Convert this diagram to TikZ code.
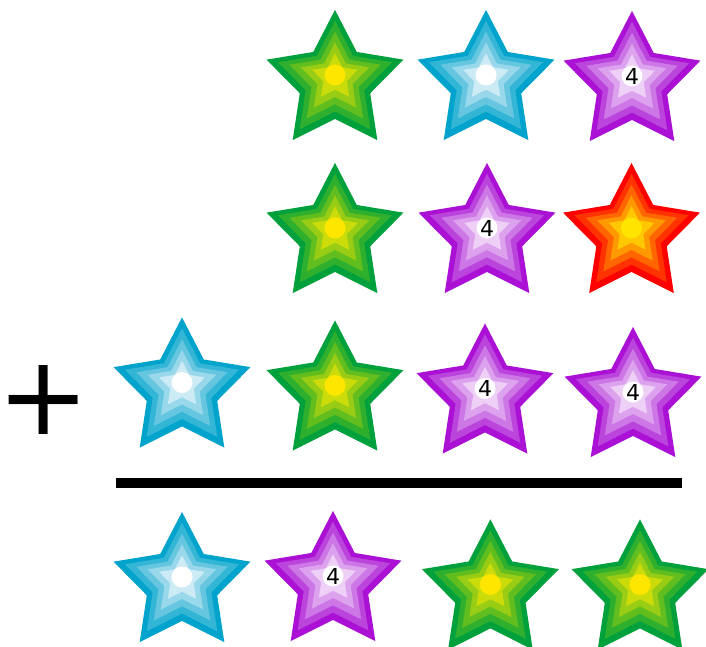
\documentclass[tikz,border=0pt]{standalone}
\usepackage{fontspec}
\newfontfamily\dejavu{DejaVu Sans}
\definecolor{greenA}{HTML}{00A03C}
\definecolor{greenB}{HTML}{2EAF2E}
\definecolor{greenC}{HTML}{62BD1E}
\definecolor{greenD}{HTML}{99CC14}
\definecolor{greenE}{HTML}{CCDC0A}
\definecolor{greenO}{HTML}{FFE600}
\definecolor{blueA}{HTML}{00A3CC}
\definecolor{blueB}{HTML}{33B5D6}
\definecolor{blueC}{HTML}{66C6E0}
\definecolor{blueD}{HTML}{99D8EB}
\definecolor{blueE}{HTML}{CCEBF4}
\definecolor{blueO}{HTML}{FFFFFF}
\definecolor{purpleA}{HTML}{AA11D4}
\definecolor{purpleB}{HTML}{BB44DD}
\definecolor{purpleC}{HTML}{CC77E5}
\definecolor{purpleD}{HTML}{DDA2EE}
\definecolor{purpleE}{HTML}{EED0F7}
\definecolor{purpleO}{HTML}{FFFFFF}
\definecolor{redA}{HTML}{FF0000}
\definecolor{redB}{HTML}{FF3300}
\definecolor{redC}{HTML}{FF6600}
\definecolor{redD}{HTML}{FF9900}
\definecolor{redE}{HTML}{FFC800}
\definecolor{redO}{HTML}{FFE400}
\tikzset{
  starlabel/.style={font=\dejavu\fontsize{22}{22}\selectfont, inner sep=0pt, text=black},
  plussign/.style={font=\dejavu\fontsize{110}{110}\selectfont, inner sep=0pt, text=black},
}
\newcommand\starpath{(0,-65.1) -- (21.75,-23.03) -- (68.48,-15.35) -- (35.19,18.33) -- (42.32,65.15) -- (0,43.9) -- (-42.32,65.15) -- (-35.19,18.33) -- (-68.48,-15.35) -- (-21.75,-23.03) -- cycle}
% #1 name, #2 x, #3 y, #4 colour family, #5 label
\newcommand\layeredstar[5]{%
  \begin{scope}[shift={(#2,#3)}]
    \fill[#4A] \starpath;
    \fill[#4B, scale=0.8333] \starpath;
    \fill[#4C, scale=0.6667] \starpath;
    \fill[#4D, scale=0.5] \starpath;
    \fill[#4E, scale=0.3333] \starpath;
    \fill[#4O] (0,0) circle[radius=10.5];
    \node[starlabel] (#1) at (0,0) {#5};
  \end{scope}}
\begin{document}
\begin{tikzpicture}[x=1pt,y=-1pt]
\useasboundingbox (0,0) rectangle (706,647);
\fill[white] (0,0) rectangle (706,647);
% row 1
\layeredstar{s11}{335}{75}{green}{}
\layeredstar{s12}{486}{75}{blue}{}
\layeredstar{s13}{632}{76}{purple}{4}
% row 2
\layeredstar{s21}{335}{228}{green}{}
\layeredstar{s22}{487}{228}{purple}{4}
\layeredstar{s23}{631.5}{228}{red}{}
% row 3
\layeredstar{s30}{182}{382.5}{blue}{}
\layeredstar{s31}{335}{385.5}{green}{}
\layeredstar{s32}{485}{388.5}{purple}{4}
\layeredstar{s33}{633}{392}{purple}{4}
% bar
\fill[black] (116,478) rectangle (682,488);
\node[plussign] (plus) at (43.8,400) {+};
% row 4
\layeredstar{s40}{182}{577}{blue}{}
\layeredstar{s41}{333}{576}{purple}{4}
\layeredstar{s42}{490.4}{584.5}{green}{}
\layeredstar{s43}{640}{584.5}{green}{}
\end{tikzpicture}
\end{document}
